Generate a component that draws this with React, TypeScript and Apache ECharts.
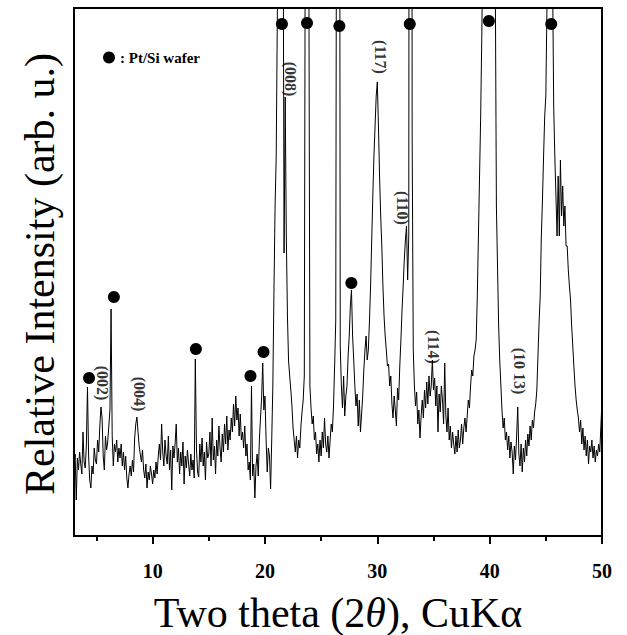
import React, { useEffect, useRef } from "react";
import * as echarts from "echarts";

// XRD scan: 2θ from 3.0° to 50.0°, step 0.1° (arbitrary intensity units)
const scanStart = 3.0;
const scanStep = 0.1;
const intensity: number[] = [
  70, 82, 36, 78, 66, 84, 72, 62, 104, 74, // 3
  68, 90, 149, 80, 56, 48, 70, 62, 88, 76, // 4
  72, 96, 84, 110, 129, 118, 80, 66, 100, 86, // 5
  94, 110, 126, 227, 100, 70, 92, 84, 96, 74, // 6
  88, 78, 92, 70, 84, 66, 80, 58, 48, 62, // 7
  70, 60, 76, 64, 98, 112, 119, 104, 90, 82, // 8
  74, 86, 66, 58, 72, 48, 64, 56, 70, 62, // 9
  52, 66, 58, 74, 62, 80, 92, 76, 112, 84, // 10
  70, 96, 80, 72, 100, 66, 86, 46, 90, 78, // 11
  92, 112, 74, 88, 62, 84, 70, 94, 52, 80, // 12
  68, 86, 72, 60, 82, 66, 76, 58, 177, 88, // 13
  64, 59, 92, 74, 98, 70, 84, 56, 94, 78, // 14
  82, 104, 70, 118, 76, 90, 62, 96, 80, 110, // 15
  88, 74, 102, 84, 112, 92, 120, 86, 106, 96, // 16
  118, 104, 132, 110, 140, 116, 128, 100, 122, 96, // 17
  104, 88, 110, 80, 92, 66, 74, 56, 150, 60, // 18
  72, 38, 70, 82, 60, 96, 118, 138, 173, 126, // 19
  140, 96, 64, 88, 80, 47, 96, 150, 246, 330, // 20
  380, 520, 800, 1600, 2000, 1600, 700, 283, 439, 300, // 21
  220, 175, 160, 146, 130, 108, 96, 84, 100, 78, // 22
  96, 88, 110, 124, 136, 160, 700, 2000, 1500, 600, // 23
  150, 128, 112, 120, 96, 104, 82, 92, 74, 96, // 24
  80, 104, 88, 118, 92, 84, 100, 78, 96, 112, // 25
  104, 130, 170, 216, 900, 2000, 1200, 190, 150, 128, // 26
  160, 120, 140, 150, 180, 200, 230, 246, 200, 176, // 27
  150, 130, 142, 110, 136, 104, 122, 140, 166, 186, // 28
  200, 176, 186, 215, 250, 295, 340, 380, 410, 440, // 29
  454, 410, 360, 320, 290, 250, 220, 200, 186, 170, // 30
  172, 150, 160, 132, 118, 140, 126, 110, 148, 136, // 31
  170, 196, 226, 250, 276, 296, 310, 256, 300, 2000, // 32
  2000, 400, 186, 150, 130, 144, 112, 126, 98, 120, // 33
  136, 118, 146, 128, 154, 132, 160, 140, 150, 176, // 34
  146, 158, 130, 150, 104, 142, 124, 150, 136, 112, // 35
  173, 120, 104, 128, 96, 110, 88, 104, 92, 82, // 36
  100, 84, 106, 88, 96, 112, 92, 108, 118, 104, // 37
  120, 136, 128, 150, 166, 160, 180, 186, 196, 240, // 38
  300, 360, 420, 500, 600, 800, 1100, 1500, 1900, 2200, // 39
  2200, 1900, 1500, 1100, 800, 560, 330, 270, 210, 175, // 40
  150, 125, 108, 118, 96, 104, 86, 100, 78, 94, // 41
  84, 62, 90, 76, 100, 129, 82, 70, 92, 64, // 42
  88, 74, 96, 80, 102, 90, 110, 96, 116, 108, // 43
  124, 132, 146, 180, 214, 240, 300, 336, 380, 420, // 44
  440, 530, 700, 1000, 1100, 900, 560, 430, 380, 340, // 45
  300, 360, 300, 376, 320, 350, 310, 330, 290, 290, // 46
  266, 250, 236, 210, 190, 169, 150, 136, 126, 118, // 47
  104, 116, 92, 108, 86, 100, 80, 96, 72, 90, // 48
  84, 96, 78, 90, 74, 86, 80, 92, 84, 110, // 49
  136, // 50
];

// Pt/Si wafer reflections (marker positions: 2θ, intensity)
const ptSiPeaks: number[][] = [
  [4.34, 158], [6.55, 239], [13.85, 187], [18.71, 160], [19.87, 184],
  [21.51, 512], [23.74, 513], [26.62, 510], [27.69, 253], [32.89, 512],
  [39.93, 515], [45.48, 512],
];

// Miller index labels (2θ, intensity)
const millerNames = ["(002)", "(004)", "(008)", "(117)", "(110)", "(114)", "(10 13)"];
const millerTheta = [5.5, 8.79, 22.25, 30.27, 32.23, 34.99, 42.66];
const millerY = [153, 142, 457, 479, 328, 189, 165];

const majorTicks = [10, 20, 30, 40, 50];
const minorTicks = [5, 15, 25, 35, 45];
const xMin = 3;
const xMax = 50;
const yMax = 528;

export default function App() {
  const ref = useRef<HTMLDivElement>(null);
  useEffect(() => {
    if (!ref.current) return;
    const chart = echarts.init(ref.current, null, { renderer: "svg" });
    const serif = "'Liberation Serif', 'Times New Roman', serif";
    const lineData = intensity.map((v, i) => [
      Number((scanStart + i * scanStep).toFixed(1)),
      v,
    ]);
    const labelData = millerNames.map((n, i) => ({
      name: n,
      value: [millerTheta[i], millerY[i]],
    }));
    chart.setOption({
      animation: false,
      backgroundColor: "#fff",
      grid: {
        left: 74,
        right: 25,
        top: 8,
        bottom: 99,
        show: true,
        borderColor: "#000",
        borderWidth: 2,
        backgroundColor: "transparent",
      },
      legend: {
        data: [{ name: ": Pt/Si wafer", icon: "circle" }],
        left: 98,
        top: 45,
        itemWidth: 12,
        itemHeight: 12,
        selectedMode: false,
        textStyle: {
          fontFamily: serif,
          fontWeight: "bold",
          fontSize: 15,
          color: "#000",
        },
      },
      xAxis: [
        {
          type: "value",
          min: xMin,
          max: xMax,
          position: "bottom",
          axisLine: { show: true, lineStyle: { color: "#000", width: 2 } },
          axisTick: {
            show: true,
            customValues: majorTicks,
            length: 8,
            lineStyle: { color: "#000", width: 2 },
          },
          axisLabel: {
            customValues: majorTicks,
            fontFamily: serif,
            fontWeight: "bold",
            fontSize: 20,
            color: "#000",
            margin: 25,
          },
          splitLine: { show: false },
        },
        {
          type: "value",
          min: xMin,
          max: xMax,
          position: "bottom",
          axisLine: { show: false },
          axisTick: {
            show: true,
            customValues: minorTicks,
            length: 5,
            lineStyle: { color: "#000", width: 2 },
          },
          axisLabel: { show: false },
          splitLine: { show: false },
        },
      ],
      yAxis: {
        type: "value",
        min: 0,
        max: yMax,
        axisLine: { show: false },
        axisTick: { show: false },
        axisLabel: { show: false },
        splitLine: { show: false },
      },
      graphic: [
        {
          type: "text",
          x: 338,
          y: 613,
          style: {
            text: "Two theta (2{i|θ}), CuKα",
            rich: {
              i: { fontStyle: "italic", fontFamily: serif, fontSize: 42, fill: "#000" },
            },
            fontFamily: serif,
            fontSize: 42,
            fill: "#000",
            align: "center",
            verticalAlign: "middle",
            textAlign: "center",
            textVerticalAlign: "middle",
          },
        },
        {
          type: "text",
          x: 40,
          y: 274,
          rotation: Math.PI / 2,
          style: {
            text: "Relative Intensity (arb. u.)",
            fontFamily: serif,
            fontSize: 42,
            fill: "#000",
            align: "center",
            verticalAlign: "middle",
            textAlign: "center",
            textVerticalAlign: "middle",
          },
        },
      ],
      series: [
        {
          name: "XRD",
          type: "line",
          xAxisIndex: 0,
          data: lineData,
          symbol: "none",
          showSymbol: false,
          clip: true,
          silent: true,
          lineStyle: { color: "#000", width: 1 },
        },
        {
          name: ": Pt/Si wafer",
          type: "scatter",
          xAxisIndex: 0,
          data: ptSiPeaks,
          symbol: "circle",
          symbolSize: 12,
          itemStyle: { color: "#000", opacity: 1 },
          silent: true,
        },
        {
          name: "hkl",
          type: "scatter",
          xAxisIndex: 0,
          data: labelData,
          symbol: "circle",
          symbolSize: 1,
          itemStyle: { color: "rgba(0,0,0,0)" },
          silent: true,
          label: {
            show: true,
            formatter: "{b}",
            position: "inside",
            rotate: -90,
            fontFamily: serif,
            fontWeight: "bold",
            fontSize: 16,
            color: "#000",
          },
        },
      ],
    });
    return () => chart.dispose();
  }, []);
  return (
    <div
      ref={ref}
      style={{ position: "fixed", left: 0, top: 0, width: 627, height: 635 }}
    />
  );
}
